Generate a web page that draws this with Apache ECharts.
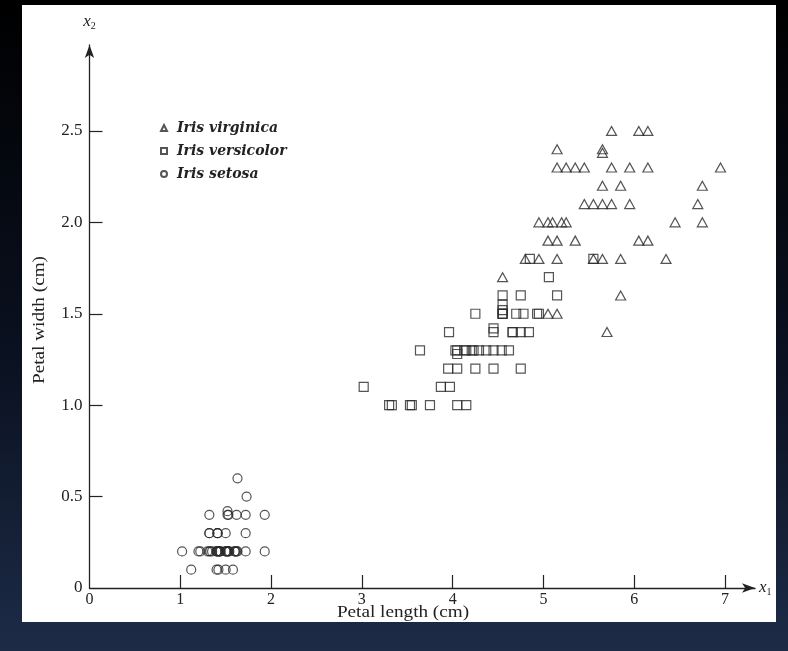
<!DOCTYPE html>
<html>
<head>
<meta charset="utf-8">
<title>Iris petal scatter</title>
<script src="https://cdn.jsdelivr.net/npm/echarts@6/dist/echarts.min.js"></script>
<style>
  html, body {
    margin: 0; padding: 0; width: 788px; height: 651px; overflow: hidden;
    background: linear-gradient(180deg, #000 0%, #0a1120 55%, #1d2b47 100%);
  }
  /* white paper of the scanned figure */
  #panel { position: absolute; left: 22px; top: 5px; width: 754px; height: 617px; background: #fff; }
  #chart { position: absolute; left: 0; top: 0; width: 788px; height: 651px; }
</style>
</head>
<body>
<div id="panel"></div>
<div id="chart"></div>
<script>
  // legend names
  const speciesNames = ['Iris virginica', 'Iris versicolor', 'Iris setosa']

  // tick values and labels
  const xTickValues = [0, 1, 2, 3, 4, 5, 6, 7]
  const yTickValues = [0, 0.5, 1.0, 1.5, 2.0, 2.5]
  const yTickLabels = ['0', '0.5', '1.0', '1.5', '2.0', '2.5']

  // [petal length, petal width]
  const virginicaPoints = [
    [5.75, 2.5], [6.05, 2.5], [6.15, 2.5],
    [5.15, 2.4], [5.65, 2.4], [5.65, 2.38],
    [5.15, 2.3], [5.25, 2.3], [5.35, 2.3], [5.45, 2.3], [5.75, 2.3], [5.95, 2.3], [6.15, 2.3], [6.95, 2.3],
    [5.65, 2.2], [5.85, 2.2], [6.75, 2.2],
    [5.45, 2.1], [5.55, 2.1], [5.65, 2.1], [5.75, 2.1], [5.95, 2.1], [6.7, 2.1],
    [4.95, 2.0], [5.05, 2.0], [5.1, 2.0], [5.2, 2.0], [5.25, 2.0], [6.45, 2.0], [6.75, 2.0],
    [5.05, 1.9], [5.15, 1.9], [5.35, 1.9], [6.05, 1.9], [6.15, 1.9],
    [4.8, 1.8], [4.95, 1.8], [5.15, 1.8], [5.55, 1.8], [5.65, 1.8], [5.85, 1.8], [6.35, 1.8],
    [4.55, 1.7], [5.85, 1.6], [5.05, 1.5], [5.15, 1.5], [5.7, 1.4]
  ]
  const versicolorPoints = [
    [3.02, 1.1],
    [3.3, 1.0], [3.33, 1.0], [3.55, 1.0], [3.53, 1.0], [3.75, 1.0], [4.05, 1.0], [4.15, 1.0],
    [3.87, 1.1], [3.97, 1.1],
    [3.95, 1.2], [4.05, 1.2], [4.25, 1.2], [4.45, 1.2], [4.75, 1.2],
    [3.64, 1.3], [4.03, 1.3], [4.05, 1.3], [4.13, 1.3], [4.15, 1.3], [4.21, 1.3], [4.23, 1.3],
    [4.29, 1.3], [4.37, 1.3], [4.45, 1.3], [4.54, 1.3], [4.62, 1.3], [4.05, 1.28],
    [3.96, 1.4], [4.45, 1.4], [4.45, 1.42], [4.66, 1.4], [4.75, 1.4], [4.84, 1.4], [4.66, 1.4],
    [4.25, 1.5], [4.55, 1.5], [4.55, 1.52], [4.55, 1.55], [4.55, 1.5], [4.7, 1.5], [4.78, 1.5],
    [4.95, 1.5], [4.93, 1.5], [4.55, 1.5],
    [4.55, 1.6], [4.75, 1.6], [5.15, 1.6],
    [5.06, 1.7], [4.85, 1.8], [5.55, 1.8]
  ]
  const setosaPoints = [
    [1.63, 0.6], [1.73, 0.5],
    [1.32, 0.4], [1.52, 0.4], [1.52, 0.42], [1.53, 0.4], [1.62, 0.4], [1.72, 0.4], [1.93, 0.4],
    [1.32, 0.3], [1.32, 0.3], [1.41, 0.3], [1.41, 0.3], [1.41, 0.3], [1.5, 0.3], [1.72, 0.3],
    [1.02, 0.2], [1.2, 0.2], [1.22, 0.2], [1.3, 0.2], [1.32, 0.2], [1.33, 0.2], [1.35, 0.2],
    [1.4, 0.2], [1.4, 0.2], [1.41, 0.2], [1.42, 0.2], [1.42, 0.2], [1.43, 0.2], [1.44, 0.2], [1.44, 0.2],
    [1.5, 0.2], [1.5, 0.2], [1.51, 0.2], [1.52, 0.2], [1.52, 0.2], [1.53, 0.2], [1.54, 0.2],
    [1.6, 0.2], [1.6, 0.2], [1.61, 0.2], [1.62, 0.2], [1.63, 0.2], [1.72, 0.2], [1.93, 0.2],
    [1.12, 0.1], [1.4, 0.1], [1.42, 0.1], [1.5, 0.1], [1.58, 0.1]
  ]

  const serif = 'Liberation Serif'
  const ink = '#222'

  // hollow markers, outline only
  const markStyle = { color: 'rgba(255,255,255,0)', borderColor: '#2a2a2a', borderWidth: 1.2 }

  // x with a small subscript, for the axis ends
  const subRich = {
    v: { fontFamily: serif, fontStyle: 'italic', fontSize: 17, color: ink },
    s: { fontFamily: serif, fontSize: 10, color: ink, padding: [9, 0, 0, 0] }
  }

  const chart = echarts.init(document.getElementById('chart'))
  const option = {
    backgroundColor: 'transparent',
    animation: false,
    grid: { left: 89.5, top: 45, right: 33, bottom: 63 },
    legend: {
      orient: 'vertical',
      left: 155,
      top: 115,
      itemWidth: 6,
      itemHeight: 6,
      itemGap: 7,
      data: speciesNames,
      textStyle: {
        fontFamily: 'DejaVu Serif', fontStyle: 'italic', fontWeight: 'bold',
        fontSize: 14, lineHeight: 16, color: ink, padding: [0, 0, 0, 5]
      }
    },
    xAxis: {
      type: 'value',
      min: 0,
      max: 7.33,
      axisLine: {
        lineStyle: { color: ink, width: 1.3 },
        symbol: ['none', 'arrow'],
        symbolSize: [7, 13]
      },
      axisTick: {
        inside: true, length: 13,
        customValues: xTickValues.slice(1),
        lineStyle: { color: ink, width: 1.2 }
      },
      axisLabel: {
        customValues: xTickValues,
        margin: 4,
        fontFamily: serif, fontSize: 16, color: ink
      },
      splitLine: { show: false },
      name: '{v|x}{s|1}',
      nameLocation: 'end',
      nameGap: 4,
      nameTextStyle: { rich: subRich }
    },
    yAxis: {
      type: 'value',
      min: 0,
      max: 2.97,
      axisLine: {
        lineStyle: { color: ink, width: 1.3 },
        symbol: ['none', 'arrow'],
        symbolSize: [7, 13]
      },
      axisTick: {
        inside: true, length: 13,
        customValues: yTickValues.slice(1),
        lineStyle: { color: ink, width: 1.2 }
      },
      axisLabel: {
        customValues: yTickValues,
        margin: 7,
        formatter: v => yTickLabels[Math.round(v / 0.5)],
        fontFamily: serif, fontSize: 17, color: ink
      },
      splitLine: { show: false },
      name: '{v|x}{s|2}',
      nameLocation: 'end',
      nameGap: 14,
      nameTextStyle: { rich: subRich }
    },
    graphic: [
      {
        type: 'text', x: 403, y: 613, scaleX: 1.2,
        style: {
          text: 'Petal length (cm)', font: '16px "Liberation Serif"', fill: ink,
          align: 'center', verticalAlign: 'middle'
        }
      },
      {
        type: 'text', x: 40, y: 320, rotation: Math.PI / 2, scaleX: 1.2,
        style: {
          text: 'Petal width (cm)', font: '16px "Liberation Serif"', fill: ink,
          align: 'center', verticalAlign: 'middle'
        }
      }
    ],
    series: [
      {
        name: speciesNames[0], type: 'scatter', symbol: 'triangle', symbolSize: [10, 9],
        itemStyle: markStyle, data: virginicaPoints
      },
      {
        name: speciesNames[1], type: 'scatter', symbol: 'rect', symbolSize: 9,
        itemStyle: markStyle, data: versicolorPoints
      },
      {
        name: speciesNames[2], type: 'scatter', symbol: 'circle', symbolSize: 9,
        itemStyle: markStyle, data: setosaPoints
      }
    ]
  }
  chart.setOption(option)
</script>
</body>
</html>
